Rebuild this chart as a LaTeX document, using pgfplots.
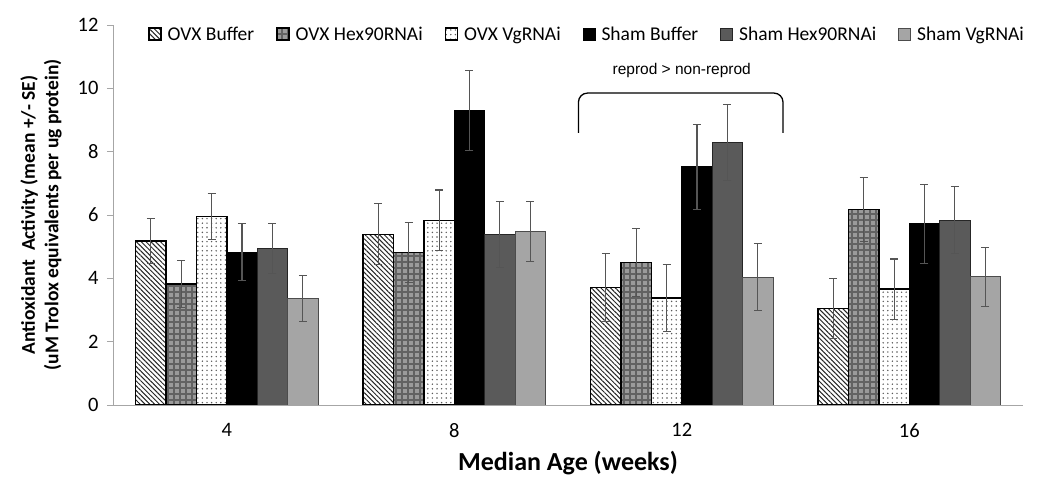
\documentclass[border=0pt]{standalone}
\usepackage{pgfplots}
\pgfplotsset{compat=1.18}
\usepackage{pgfplotstable}
\usetikzlibrary{patterns.meta}
\usepackage{fontspec}
\setmainfont{Carlito}
\newfontfamily\arialfont{Liberation Sans}

\definecolor{axgray}{HTML}{A6A6A6}
\definecolor{errgray}{HTML}{555555}
\definecolor{shamhex}{HTML}{5A5A5A}
\definecolor{shamvg}{HTML}{A5A5A5}
\definecolor{hexfill}{HTML}{9A9A9A}
\definecolor{hexline}{HTML}{626262}

\pgfplotstableread{
x y e
0 5.18 0.72
1 5.39 0.96
2 3.71 1.08
3 3.05 0.95
}\ovxbuf
\pgfplotstableread{
x y e
0 3.82 0.74
1 4.82 0.95
2 4.50 1.06
3 6.17 1.02
}\ovxhex
\pgfplotstableread{
x y e
0 5.96 0.72
1 5.83 0.96
2 3.38 1.05
3 3.66 0.95
}\ovxvg
\pgfplotstableread{
x y e
0 4.82 0.90
1 9.30 1.25
2 7.52 1.34
3 5.72 1.24
}\shambuf
\pgfplotstableread{
x y e
0 4.94 0.79
1 5.39 1.05
2 8.29 1.20
3 5.84 1.06
}\shamhexd
\pgfplotstableread{
x y e
0 3.36 0.73
1 5.48 0.96
2 4.04 1.07
3 4.05 0.93
}\shamvgd

\pgfplotsset{
  myerr/.style={error bars/.cd, y dir=both, y explicit,
    error bar style={errgray, line width=1.1pt},
    error mark options={errgray, rotate=90, mark size=4pt, line width=1.1pt}},
}

\begin{document}
\begin{tikzpicture}
\useasboundingbox (0,0) rectangle (1050pt,490pt);
\begin{axis}[
  at={(113pt,85pt)}, anchor=south west,
  scale only axis, width=910pt, height=380pt,
  xmin=-0.5, xmax=3.5, ymin=0, ymax=12,
  axis lines*=left,
  axis line style={axgray, line width=0.9pt},
  ybar=0pt, bar width=30.4pt,
  xtick={0,1,2,3}, xticklabels={4,8,12,16},
  x tick style={draw=none},
  extra x ticks={-0.5,0.5,1.5,2.5,3.5},
  extra x tick labels={,,,,},
  extra x tick style={tick style={draw=axgray, line width=0.9pt}},
  ytick={0,2,...,12},
  y tick style={draw=axgray, line width=0.9pt},
  tick align=outside, major tick length=6pt,
  /pgf/number format/assume math mode=true,
  tick label style={font=\fontsize{20.5}{23}\selectfont, color=black},
  xticklabel style={yshift=-9pt},
  yticklabel style={xshift=-5pt},
  xlabel={Median Age (weeks)},
  xlabel style={font=\bfseries\fontsize{26}{30}\selectfont, at={(axis description cs:0.5,-0.1526)}, anchor=center},
  ylabel={Antioxidant\ \ Activity (mean +/- SE)\\(uM Trolox equivalents per ug protein)},
  ylabel style={font=\bfseries\fontsize{19.5}{23.5}\selectfont, align=center, at={(axis description cs:-0.079,0.5)}, anchor=center},
  legend columns=6,
  legend style={at={(axis description cs:0.0385,0.976)}, anchor=west, draw=none, fill=none,
    inner sep=0pt, font=\fontsize{19.5}{22}\selectfont,
    nodes={inner xsep=2pt, inner ysep=0pt},
    /tikz/every even column/.append style={column sep=20pt}},
  legend image code/.code={\draw[#1] (0pt,-6pt) rectangle (12pt,6pt); \path (16pt,0pt);},
]
\addplot[draw=black, line width=1.5pt, fill=white, postaction={pattern={Lines[angle=-45, distance=3.4pt, line width=1pt]}, pattern color=black!85}, myerr] table[x=x,y=y,y error=e] {\ovxbuf};
\addplot[draw=black, line width=1.5pt, fill=hexfill, postaction={pattern={Hatch[angle=0, distance=6pt, line width=2pt]}, pattern color=hexline}, myerr] table[x=x,y=y,y error=e] {\ovxhex};
\addplot[draw=black, line width=1.5pt, fill=white, postaction={pattern={Dots[distance=4.6pt, radius=0.8pt]}, pattern color=black!65}, myerr] table[x=x,y=y,y error=e] {\ovxvg};
\addplot[draw=black, line width=0.8pt, fill=black, myerr] table[x=x,y=y,y error=e] {\shambuf};
\addplot[draw=black!85, line width=0.8pt, fill=shamhex, myerr] table[x=x,y=y,y error=e] {\shamhexd};
\addplot[draw=black!70, line width=0.8pt, fill=shamvg, myerr] table[x=x,y=y,y error=e] {\shamvgd};
\legend{OVX Buffer, OVX Hex90RNAi, OVX VgRNAi, Sham Buffer, Sham Hex90RNAi, Sham VgRNAi}
\draw[black, line width=1.3pt, rounded corners=9pt] (axis cs:1.546,8.59) -- (axis cs:1.546,9.85) -- (axis cs:2.445,9.85) -- (axis cs:2.445,8.59);
\node[font=\arialfont\fontsize{15.5}{18}\selectfont] at (axis cs:2,10.55) {reprod > non-reprod};
\end{axis}
\end{tikzpicture}
\end{document}
